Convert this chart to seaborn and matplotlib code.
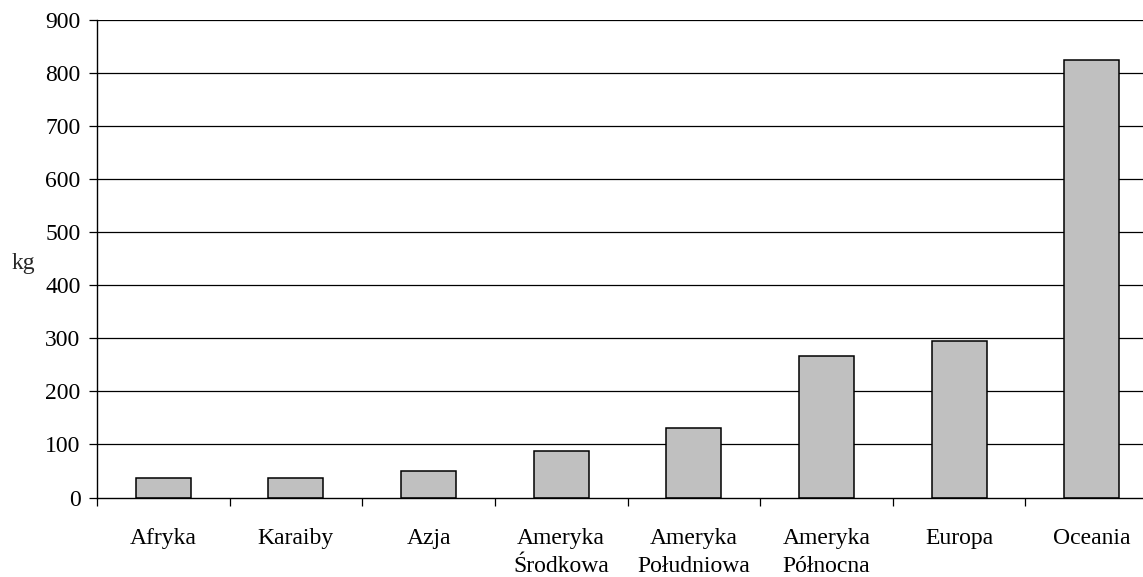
import matplotlib
matplotlib.use("Agg")
import matplotlib.pyplot as plt
import matplotlib.transforms as mtransforms
import seaborn as sns
import pandas as pd
import numpy as np
from matplotlib.ticker import FixedLocator

categories = ["Afryka", "Karaiby", "Azja", "Ameryka\nŚrodkowa", "Ameryka\nPołudniowa",
              "Ameryka\nPółnocna", "Europa", "Oceania"]
values = [36, 36, 49, 88, 131, 266, 295, 824]
yticks = [0, 100, 200, 300, 400, 500, 600, 700, 800, 900]
ylabel = "kg"

sns.set_theme(style="white")
plt.rcParams['font.family'] = ['Liberation Serif', 'DejaVu Serif']

FS = 17
DPI = 100
df = pd.DataFrame({"region": categories, "kg": values})

fig = plt.figure(figsize=(11.43, 5.77), dpi=DPI)
# plot area runs past the right edge of the picture (cut off like the reference)
ax_left, ax_right, ax_top, ax_bottom = 97, 1158, 19.5, 497.5
ax = fig.add_axes([ax_left/1143, 1-ax_bottom/577, (ax_right-ax_left)/1143, (ax_bottom-ax_top)/577])

for y in yticks[1:]:
    ax.axhline(y, color="black", lw=0.9, zorder=0)

sns.barplot(data=df, x="region", y="kg", color="#C0C0C0", edgecolor="black",
            linewidth=1.1, width=0.415, saturation=1, ax=ax, zorder=2)

ax.set_ylim(0, 900)
ax.set_xlim(-0.5, len(categories) - 0.5)
ax.set_yticks(yticks)
ax.set_yticklabels([str(v) for v in yticks], fontsize=FS)

first_lines = [c.split("\n")[0] for c in categories]
second_lines = [c.split("\n")[1] if "\n" in c else "" for c in categories]
ax.set_xticks(range(len(categories)))
ax.set_xticklabels(first_lines, fontsize=FS)
for lbl in ax.get_xticklabels():
    lbl.set_va("baseline")
# first-line baseline 46.5 px below the axis
ax.tick_params(axis="x", which="major", length=0, pad=46.5 * 72 / DPI)
# second lines, baseline 74 px below the axis
trans = ax.get_xaxis_transform() + mtransforms.ScaledTranslation(0, -74 / DPI, fig.dpi_scale_trans)
for i, s in enumerate(second_lines):
    if s:
        ax.text(i, 0, s, transform=trans, ha="center", va="baseline",
                fontsize=FS, color="black", clip_on=False)

ax.xaxis.set_minor_locator(FixedLocator(np.arange(-0.5, len(categories), 1.0)))
ax.tick_params(axis="x", which="minor", length=5.8, width=0.9, color="black", direction="out", bottom=True)
ax.tick_params(axis="y", which="major", length=5.8, width=0.9, color="black", direction="out", left=True, pad=6)

ax.set_xlabel("")
ax.set_ylabel(ylabel, rotation=0, fontsize=FS, ha="center", va="center")
ax.yaxis.set_label_coords((23.5 - ax_left) / (ax_right - ax_left), 0.49)

for s in ["top", "right"]:
    ax.spines[s].set_visible(False)
for s in ["left", "bottom"]:
    ax.spines[s].set_color("black")
    ax.spines[s].set_linewidth(1.0)

for lbl in ax.get_yticklabels() + ax.get_xticklabels():
    lbl.set_color("black")

fig.savefig("out.png", dpi=DPI, facecolor="white")
